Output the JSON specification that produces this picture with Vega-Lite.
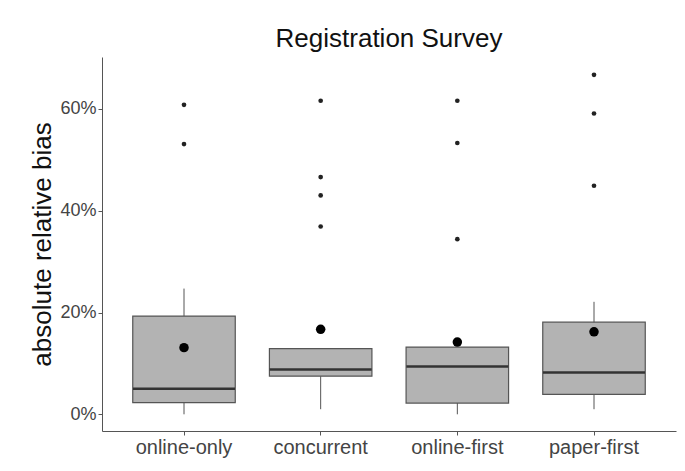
{
  "$schema": "https://vega.github.io/schema/vega-lite/v6.json",
  "autosize": {"type": "none"},
  "width": 574,
  "height": 374,
  "padding": {"left": 102, "top": 57, "right": 9, "bottom": 40},
  "background": "white",
  "title": {"text": "Registration Survey", "anchor": "middle", "frame": "group", "fontSize": 26, "fontWeight": "normal", "font": "Liberation Sans", "color": "#111", "offset": 5},
  "config": {
    "view": {"stroke": null},
    "font": "Liberation Sans",
    "axis": {"grid": false, "domainColor": "#555", "tickColor": "#555", "tickSize": 4, "labelColor": "#444", "labelFont": "Liberation Sans", "titleFont": "Liberation Sans"}
  },
  "datasets": {
    "stats": [
      {"mode": "online-only", "lower": 0.0, "q1": 0.023, "median": 0.050, "q3": 0.193, "upper": 0.247, "mean": 0.131},
      {"mode": "concurrent", "lower": 0.010, "q1": 0.075, "median": 0.088, "q3": 0.129, "upper": 0.129, "mean": 0.167},
      {"mode": "online-first", "lower": 0.0, "q1": 0.022, "median": 0.094, "q3": 0.132, "upper": 0.132, "mean": 0.142},
      {"mode": "paper-first", "lower": 0.010, "q1": 0.039, "median": 0.082, "q3": 0.181, "upper": 0.221, "mean": 0.162}
    ],
    "outliers": [
      {"mode": "online-only", "value": 0.608},
      {"mode": "online-only", "value": 0.531},
      {"mode": "concurrent", "value": 0.616},
      {"mode": "concurrent", "value": 0.466},
      {"mode": "concurrent", "value": 0.430},
      {"mode": "concurrent", "value": 0.369},
      {"mode": "online-first", "value": 0.616},
      {"mode": "online-first", "value": 0.533},
      {"mode": "online-first", "value": 0.344},
      {"mode": "paper-first", "value": 0.667},
      {"mode": "paper-first", "value": 0.591},
      {"mode": "paper-first", "value": 0.449}
    ]
  },
  "encoding": {
    "x": {
      "field": "mode", "type": "nominal",
      "sort": ["online-only", "concurrent", "online-first", "paper-first"],
      "scale": {"paddingInner": 0, "paddingOuter": 0.1},
      "axis": {"title": null, "labelAngle": 0, "labelFontSize": 20, "labelPadding": 2}
    }
  },
  "layer": [
    {
      "data": {"name": "stats"},
      "mark": {"type": "rule", "color": "#555", "strokeWidth": 1},
      "encoding": {
        "y": {"field": "lower", "type": "quantitative",
          "scale": {"domain": [-0.0328, 0.702], "nice": false, "zero": false},
          "axis": {"title": "absolute relative bias", "titleFontSize": 26, "titleFontWeight": "normal", "titleColor": "#111", "titlePadding": 4, "values": [0, 0.2, 0.4, 0.6], "format": ".0%", "labelFontSize": 18, "labelPadding": 2}},
        "y2": {"field": "upper"}
      }
    },
    {
      "data": {"name": "stats"},
      "mark": {"type": "bar", "fill": "#b3b3b3", "stroke": "#555", "strokeWidth": 1.2, "width": {"band": 0.75}},
      "encoding": {
        "y": {"field": "q1", "type": "quantitative"},
        "y2": {"field": "q3"}
      }
    },
    {
      "data": {"name": "stats"},
      "mark": {"type": "tick", "orient": "horizontal", "color": "#333", "thickness": 2.5, "size": 102, "opacity": 1},
      "encoding": {
        "y": {"field": "median", "type": "quantitative"}
      }
    },
    {
      "data": {"name": "outliers"},
      "mark": {"type": "point", "filled": true, "color": "#222", "size": 22, "opacity": 1},
      "encoding": {
        "y": {"field": "value", "type": "quantitative"}
      }
    },
    {
      "data": {"name": "stats"},
      "mark": {"type": "point", "filled": true, "color": "#000", "size": 90, "opacity": 1},
      "encoding": {
        "y": {"field": "mean", "type": "quantitative"}
      }
    }
  ]
}
